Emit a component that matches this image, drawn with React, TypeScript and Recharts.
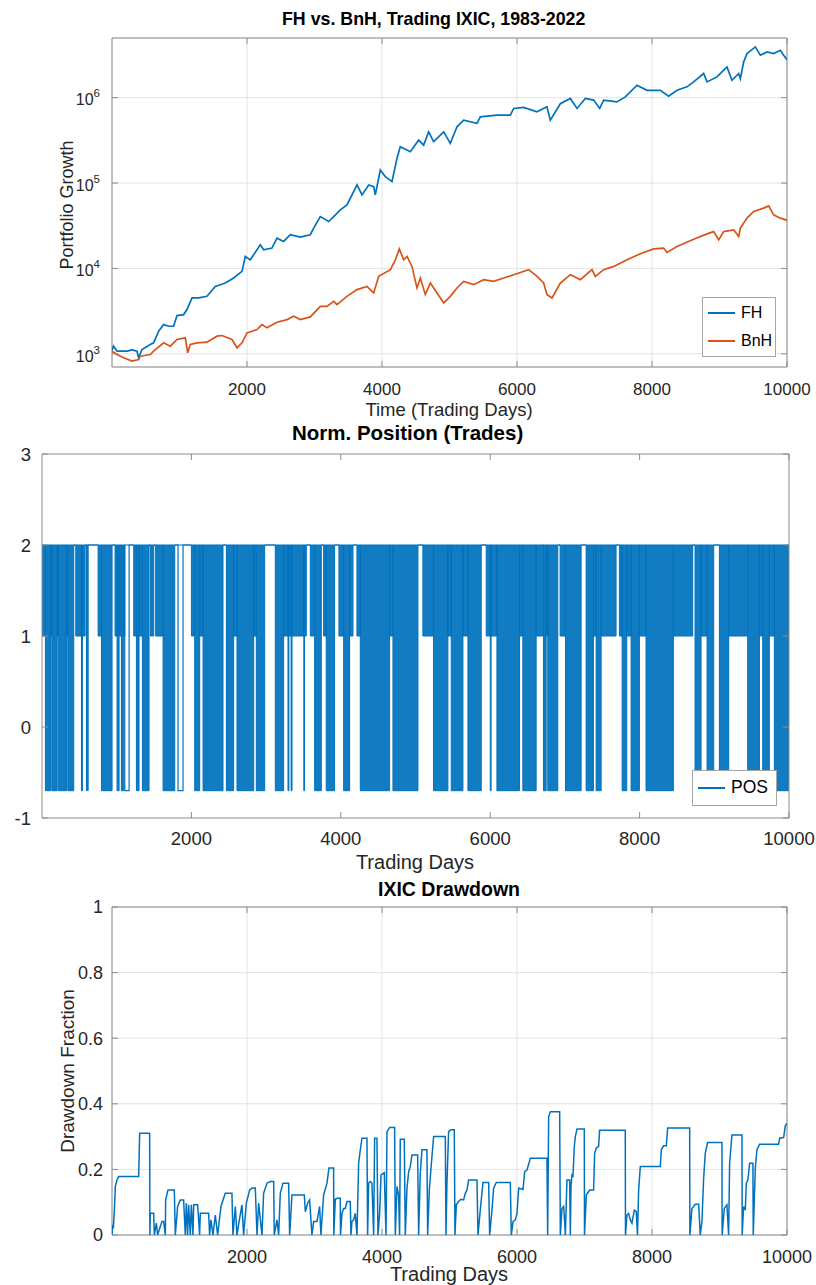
import React from "react";
import {
  LineChart,
  ComposedChart,
  Line,
  Area,
  XAxis,
  YAxis,
  CartesianGrid,
  ReferenceArea,
  Legend,
} from "recharts";

const BLUE = "#0072BD";
const ORANGE = "#D95319";
const AXIS = "#8c8c8c";
const GRID = "#e3e3e3";
const INK = "#262626";
const FONT = "'Liberation Sans', Arial, Helvetica, sans-serif";

// shared trading-day axis
const DAY_TICKS = [2000, 4000, 6000, 8000, 10000];

// panel 1: portfolio growth (log scale)
const GROWTH_TICKS = [1e3, 1e4, 1e5, 1e6];
const GROWTH_MINOR = [
  800, 900, 2e3, 3e3, 4e3, 5e3, 6e3, 7e3, 8e3, 9e3, 2e4, 3e4, 4e4, 5e4, 6e4, 7e4, 8e4, 9e4,
  2e5, 3e5, 4e5, 5e5, 6e5, 7e5, 8e5, 9e5, 2e6, 3e6, 4e6,
];

// [day, value]
const FH_GROWTH: [number, number][] = [
  [0, 1100], [24, 1230], [74, 1072], [222, 1072], [300, 1110], [370, 1072], [395, 898], [444, 1122],
  [567, 1284], [617, 1344], [691, 1837], [765, 2198], [840, 2100], [913, 2100], [963, 2800],
  [1061, 2877], [1111, 3294], [1185, 4510], [1284, 4510], [1407, 4710], [1530, 6160], [1679, 6750],
  [1802, 7720], [1926, 9230], [1975, 13800], [2049, 12600], [2197, 18900], [2247, 16500],
  [2370, 17300], [2444, 22600], [2543, 20700], [2641, 24800], [2790, 23300], [2938, 24800],
  [2988, 29600], [3086, 40500], [3210, 35400], [3284, 40500], [3383, 48500], [3481, 55400],
  [3630, 95000], [3704, 72600], [3803, 95000], [3877, 90800], [3901, 72600], [3975, 142000],
  [4049, 119000], [4148, 104000], [4222, 195000], [4271, 266000], [4420, 233000], [4543, 318000],
  [4617, 278000], [4691, 398000], [4765, 305000], [4914, 398000], [5012, 292000], [5111, 456000],
  [5210, 546000], [5407, 500000], [5457, 597000], [5704, 625000], [5901, 625000], [5951, 748000],
  [6099, 768000], [6296, 682000], [6444, 782000], [6494, 546000], [6642, 850000], [6790, 979000],
  [6889, 748000], [7012, 979000], [7136, 936000], [7225, 748000], [7284, 936000], [7481, 893000],
  [7605, 1020000], [7778, 1400000], [7926, 1220000], [8123, 1220000], [8247, 1040000],
  [8370, 1220000], [8518, 1340000], [8617, 1530000], [8765, 1920000], [8815, 1530000],
  [8963, 1750000], [9062, 2100000], [9111, 2290000], [9185, 1600000], [9284, 1920000],
  [9309, 1670000], [9358, 2620000], [9407, 3280000], [9531, 3930000], [9605, 3140000],
  [9704, 3430000], [9802, 3280000], [9901, 3590000], [9951, 3140000], [10000, 2790000],
];

const BNH_GROWTH: [number, number][] = [
  [0, 1072], [74, 981], [173, 898], [296, 820], [395, 857], [420, 938], [567, 981], [617, 1072],
  [765, 1344], [864, 1227], [963, 1469], [1086, 1538], [1121, 1027], [1160, 1284], [1259, 1344],
  [1407, 1367], [1556, 1607], [1630, 1637], [1778, 1469], [1852, 1175], [1926, 1344], [2000, 1758],
  [2148, 1923], [2222, 2198], [2296, 2013], [2444, 2340], [2593, 2515], [2691, 2750], [2790, 2515],
  [2938, 2703], [3086, 3597], [3185, 3597], [3284, 4115], [3333, 3767], [3481, 4710], [3630, 5640],
  [3778, 6160], [3877, 5160], [3951, 8070], [4124, 9660], [4198, 12600], [4257, 16900],
  [4321, 12600], [4370, 13800], [4444, 10550], [4518, 5900], [4568, 7720], [4642, 4930],
  [4716, 6750], [4815, 5160], [4914, 3940], [5012, 4710], [5111, 5900], [5210, 7050], [5358, 6450],
  [5506, 7380], [5654, 7050], [5802, 7720], [5951, 8440], [6173, 9660], [6296, 8070], [6395, 6750],
  [6444, 4930], [6519, 4510], [6642, 6750], [6790, 8440], [6839, 8070], [6938, 7380], [7111, 9660],
  [7160, 8070], [7284, 9660], [7432, 10550], [7630, 12600], [7827, 14860], [8025, 16900],
  [8173, 17300], [8222, 15400], [8370, 18100], [8617, 22000], [8815, 25400], [8914, 27000],
  [8988, 21600], [9062, 27000], [9210, 28300], [9284, 23700], [9309, 29600], [9407, 38800],
  [9506, 46400], [9654, 50800], [9728, 54000], [9802, 42400], [9901, 38800], [9951, 37800],
  [10000, 36400],
];

// panel 2: normalised position. Stretches of rapid trading away from the
// full (2) position: [firstDay, lastDay, lowest level reached]
const POS_TICKS = [-1, 0, 1, 2, 3];
const POSITION_BANDS: [number, number, number][] = [
  [2, 46, 1], [46, 113, -0.7], [113, 131, 1], [131, 202, -0.7], [202, 216, 1], [216, 327, -0.7],
  [327, 345, 1], [345, 425, -0.7], [452, 528, 1], [528, 541, -0.7], [541, 577, 1], [595, 600, -0.7],
  [612, 617, -0.7], [751, 796, 1], [796, 938, -0.7], [978, 1005, 1], [1005, 1032, -0.7],
  [1032, 1063, 1], [1063, 1094, -0.7], [1094, 1108, 1], [1228, 1264, 1], [1264, 1299, -0.7],
  [1299, 1344, 1], [1344, 1433, -0.7], [1451, 1496, 1], [1522, 1621, 1], [1621, 1777, -0.7],
  [2000, 2044, 1], [2044, 2111, -0.7], [2111, 2156, 1], [2156, 2423, -0.7], [2468, 2566, -0.7],
  [2566, 2610, 1], [2610, 2834, -0.7], [2834, 2869, 1], [2869, 2981, -0.7], [3123, 3235, -0.7],
  [3235, 3293, 1], [3293, 3305, -0.7], [3305, 3335, 1], [3335, 3347, -0.7], [3347, 3505, 1],
  [3505, 3515, -0.7], [3515, 3538, 1], [3592, 3650, 1], [3650, 3739, -0.7], [3770, 3805, 1],
  [3805, 3917, -0.7], [3975, 4038, 1], [4038, 4118, -0.7], [4118, 4163, 1], [4216, 4261, 1],
  [4261, 4653, -0.7], [4653, 4698, 1], [4698, 5033, -0.7], [5099, 5242, 1], [5242, 5434, -0.7],
  [5434, 5478, 1], [5478, 5635, -0.7], [5635, 5702, 1], [5702, 5880, -0.7], [5947, 6001, 1],
  [6001, 6012, -0.7], [6012, 6090, 1], [6090, 6393, -0.7], [6393, 6437, 1], [6437, 6615, -0.7],
  [6615, 6704, 1], [6713, 6749, -0.7], [6749, 6771, 1], [6771, 6905, -0.7], [6936, 7008, 1],
  [7008, 7217, -0.7], [7284, 7382, -0.7], [7382, 7418, 1], [7418, 7485, -0.7], [7485, 7685, 1],
  [7730, 7766, 1], [7766, 7828, -0.7], [7828, 7886, 1], [7886, 7997, -0.7], [7997, 8086, 1],
  [8086, 8452, -0.7], [8452, 8711, 1], [8742, 8823, -0.7], [8823, 8903, 1], [8903, 8992, -0.7],
  [9068, 9193, -0.7], [9193, 9447, 1], [9447, 9604, -0.7], [9604, 9648, 1], [9648, 9737, -0.7],
  [9737, 9804, 1], [9804, 10000, -0.7],
];
// longer short holds: [from, to, level]
const POSITION_HOLDS: [number, number, number][] = [
  [1108, 1166, -0.7],
  [1821, 1888, -0.7],
];

// panel 3: drawdown fraction, [day, drawdown]
const DD_TICKS = [0, 0.2, 0.4, 0.6, 0.8, 1];
const DRAWDOWN: [number, number][] = [
  [0, 0], [10, 0.031], [20, 0.02], [34, 0.071], [49, 0.148], [74, 0.168], [98, 0.178], [395, 0.178],
  [410, 0.31], [558, 0.31], [561, 0], [567, 0.066], [617, 0.066], [627, 0], [657, 0.036], [676, 0],
  [706, 0.02], [740, 0.041], [765, 0.041], [790, 0], [795, 0.107], [829, 0.137], [923, 0.137],
  [938, 0], [972, 0.087], [1012, 0.107], [1061, 0.107], [1086, 0], [1101, 0.097], [1120, 0],
  [1135, 0.092], [1160, 0], [1175, 0.092], [1200, 0], [1210, 0.092], [1269, 0.092], [1298, 0],
  [1308, 0.066], [1432, 0.066], [1446, 0], [1466, 0.046], [1496, 0], [1530, 0.061], [1565, 0],
  [1614, 0.087], [1678, 0.127], [1777, 0.127], [1792, 0], [1827, 0.087], [1851, 0], [1891, 0.051],
  [1925, 0.092], [1950, 0], [1990, 0.097], [2039, 0.137], [2073, 0.143], [2123, 0.143], [2148, 0],
  [2172, 0.097], [2222, 0], [2246, 0.127], [2296, 0.158], [2345, 0.163], [2395, 0.163], [2404, 0],
  [2444, 0.046], [2469, 0], [2493, 0.127], [2533, 0.158], [2617, 0.158], [2632, 0], [2666, 0.122],
  [2849, 0.122], [2864, 0.071], [2898, 0.097], [2928, 0.107], [2962, 0], [2987, 0.041],
  [3036, 0.041], [3076, 0.087], [3095, 0], [3135, 0.122], [3185, 0.158], [3214, 0.204],
  [3283, 0.204], [3286, 0], [3308, 0.109], [3333, 0.112], [3382, 0.112], [3385, 0], [3407, 0.066],
  [3432, 0.081], [3456, 0.081], [3481, 0.102], [3530, 0.102], [3540, 0], [3555, 0.041],
  [3580, 0.046], [3604, 0.066], [3629, 0], [3654, 0.219], [3679, 0.26], [3703, 0.295],
  [3777, 0.295], [3787, 0], [3802, 0.158], [3827, 0.163], [3851, 0.158], [3876, 0], [3891, 0.295],
  [3925, 0.295], [3940, 0], [3965, 0.066], [3985, 0.183], [4034, 0.19], [4059, 0], [4074, 0.315],
  [4113, 0.328], [4187, 0.328], [4197, 0], [4222, 0.148], [4246, 0.122], [4261, 0], [4271, 0.292],
  [4330, 0.292], [4345, 0], [4370, 0.143], [4395, 0.193], [4419, 0.209], [4444, 0.244],
  [4528, 0.244], [4543, 0], [4567, 0.188], [4592, 0.26], [4666, 0.26], [4676, 0], [4701, 0.137],
  [4730, 0.214], [4765, 0.3], [4938, 0.3], [4948, 0], [4962, 0.158], [4987, 0.315], [5022, 0.321],
  [5071, 0.321], [5081, 0], [5101, 0.092], [5135, 0.102], [5170, 0.109], [5209, 0.107],
  [5234, 0.127], [5259, 0.137], [5283, 0.168], [5407, 0.168], [5422, 0], [5456, 0.076],
  [5496, 0.16], [5580, 0.16], [5595, 0], [5629, 0.076], [5654, 0.143], [5693, 0.16], [5901, 0.16],
  [5916, 0], [5941, 0.041], [5975, 0.046], [6000, 0.066], [6025, 0.143], [6089, 0.139],
  [6114, 0.193], [6148, 0.198], [6198, 0.234], [6444, 0.234], [6454, 0], [6469, 0.361],
  [6494, 0.376], [6632, 0.376], [6642, 0], [6666, 0.081], [6691, 0.087], [6700, 0.06], [6716, 0],
  [6740, 0.168], [6780, 0.168], [6790, 0], [6800, 0.148], [6814, 0.183], [6829, 0.18], [6849, 0.27],
  [6864, 0.3], [6889, 0.323], [6997, 0.323], [7000, 0], [7027, 0.122], [7076, 0.137], [7135, 0.137],
  [7150, 0.249], [7175, 0.265], [7209, 0.27], [7224, 0.319], [7604, 0.319], [7607, 0],
  [7629, 0.061], [7654, 0.066], [7678, 0.046], [7703, 0.036], [7738, 0.076], [7767, 0.071],
  [7785, 0], [7802, 0.137], [7827, 0.209], [8123, 0.209], [8138, 0.26], [8172, 0.272],
  [8212, 0.272], [8232, 0.326], [8558, 0.326], [8561, 0], [8592, 0.081], [8617, 0.087],
  [8641, 0.094], [8691, 0.094], [8715, 0], [8740, 0.041], [8765, 0.173], [8789, 0.249],
  [8824, 0.282], [9036, 0.282], [9039, 0], [9071, 0.081], [9110, 0.092], [9135, 0], [9150, 0.219],
  [9184, 0.305], [9333, 0.305], [9336, 0], [9357, 0.087], [9382, 0.076], [9397, 0.158],
  [9421, 0.168], [9446, 0.219], [9495, 0.219], [9500, 0], [9530, 0.204], [9555, 0.26],
  [9594, 0.277], [9876, 0.277], [9891, 0.295], [9950, 0.297], [9975, 0.333], [10000, 0.341],
];

type Box = { left: number; right: number; top: number; bottom: number };

// plot rectangles, in each chart's own svg coordinates
const BOX1: Box = { left: 112, right: 787, top: 38, bottom: 367 };
const BOX2: Box = { left: 42, right: 789, top: 34, bottom: 398 };
const BOX3: Box = { left: 112, right: 787, top: 37, bottom: 365 };

const fhData = FH_GROWTH.map(([day, v]) => ({ day, v }));
const bnhData = BNH_GROWTH.map(([day, v]) => ({ day, v }));
const ddData = DRAWDOWN.map(([day, v]) => ({ day, v }));

const bandData = [{ day: 0, pos: 2 }];
POSITION_BANDS.forEach(([from, to, low]) => {
  bandData.push({ day: from, pos: low });
  bandData.push({ day: to, pos: 2 });
});
bandData.push({ day: 10000, pos: 2 });

const holdData = [{ day: 0, pos: 2 }];
POSITION_HOLDS.forEach(([from, to, level]) => {
  holdData.push({ day: from, pos: level });
  holdData.push({ day: to, pos: 2 });
});
holdData.push({ day: 10000, pos: 2 });

function xTick(box: Box, fontSize: number, drop: number) {
  return (p: any) => (
    <g>
      <line x1={p.x} x2={p.x} y1={box.bottom} y2={box.bottom - 6} stroke={AXIS} />
      <line x1={p.x} x2={p.x} y1={box.top} y2={box.top + 6} stroke={AXIS} />
      <text x={p.x} y={box.bottom + drop} textAnchor="middle" fontSize={fontSize} fontFamily={FONT} fill={INK}>
        {p.payload.value}
      </text>
    </g>
  );
}

function yTick(box: Box, fontSize: number, gap: number, label?: (v: number) => React.ReactNode) {
  return (p: any) => (
    <g>
      <line x1={box.left} x2={box.left + 6} y1={p.y} y2={p.y} stroke={AXIS} />
      <line x1={box.right - 6} x2={box.right} y1={p.y} y2={p.y} stroke={AXIS} />
      <text x={box.left - gap} y={p.y + fontSize * 0.36} textAnchor="end" fontSize={fontSize} fontFamily={FONT} fill={INK}>
        {label ? label(p.payload.value) : String(p.payload.value)}
      </text>
    </g>
  );
}

function powerLabel(v: number) {
  const e = Math.round(Math.log10(v));
  return (
    <>
      <tspan dy={2}>10</tspan>
      <tspan dy={-8} fontSize={11.5}>
        {e}
      </tspan>
    </>
  );
}

const minorTick = (p: any) => (
  <g>
    <line x1={BOX1.left} x2={BOX1.right} y1={p.y} y2={p.y} stroke="#e6e6e6" strokeDasharray="1 2" />
    <line x1={BOX1.left} x2={BOX1.left + 3} y1={p.y} y2={p.y} stroke={AXIS} />
    <line x1={BOX1.right - 3} x2={BOX1.right} y1={p.y} y2={p.y} stroke={AXIS} />
  </g>
);

function LegendBox({
  payload,
  names,
  width,
  height,
  row,
  fontSize,
}: {
  payload?: any[];
  names: string[];
  width: number;
  height: number;
  row: number;
  fontSize: number;
}) {
  const items = names
    .map((n) => (payload ?? []).find((p) => p.value === n))
    .filter(Boolean) as any[];
  return (
    <div
      style={{
        width,
        height,
        boxSizing: "border-box",
        border: "1px solid #a6a6a6",
        background: "#fff",
        paddingLeft: 5,
        paddingTop: (height - 2 - row * items.length) / 2,
        fontFamily: FONT,
        fontSize,
        color: "#000",
        lineHeight: 1,
      }}
    >
      {items.map((item) => (
        <div key={item.value} style={{ display: "flex", alignItems: "center", height: row }}>
          <svg width={28} height={4} style={{ marginRight: 5, flex: "none" }}>
            <line x1={0} x2={27} y1={2} y2={2} stroke={item.color} strokeWidth={2} />
          </svg>
          <span>{item.value}</span>
        </div>
      ))}
    </div>
  );
}

export default function App() {
  return (
    <div style={{ position: "absolute", left: 0, top: 0, width: 816, height: 1285, background: "#fff", overflow: "hidden" }}>
      {/* panel 1 */}
      <div style={{ position: "absolute", left: 0, top: 0 }}>
        <LineChart width={816} height={420} margin={{ top: 38, right: 29, bottom: 0, left: 0 }}>
          <CartesianGrid stroke={GRID} />
          <XAxis
            dataKey="day"
            type="number"
            domain={[0, 10000]}
            allowDataOverflow
            ticks={DAY_TICKS}
            interval={0}
            height={53}
            axisLine={false}
            tickLine={false}
            tickSize={0}
            tickMargin={0}
            tick={xTick(BOX1, 17, 28)}
          />
          <YAxis
            yAxisId="minor"
            scale="log"
            type="number"
            domain={[700, 5e6]}
            allowDataOverflow
            ticks={GROWTH_MINOR}
            interval={0}
            width={0}
            axisLine={false}
            tickLine={false}
            tickSize={0}
            tick={minorTick}
          />
          <YAxis
            scale="log"
            type="number"
            domain={[700, 5e6]}
            allowDataOverflow
            ticks={GROWTH_TICKS}
            interval={0}
            width={112}
            axisLine={false}
            tickLine={false}
            tickSize={0}
            tick={yTick(BOX1, 16, 12, powerLabel)}
          />
          <ReferenceArea x1={0} x2={10000} y1={700} y2={5e6} fill="none" stroke={AXIS} ifOverflow="visible" />
          <Line data={fhData} dataKey="v" name="FH" stroke={BLUE} strokeWidth={1.7} dot={false} activeDot={false} isAnimationActive={false} />
          <Line data={bnhData} dataKey="v" name="BnH" stroke={ORANGE} strokeWidth={1.7} dot={false} activeDot={false} isAnimationActive={false} />
          <Legend
            layout="horizontal"
            verticalAlign="middle"
            align="center"
            wrapperStyle={{ left: 702, top: 297, width: 74, height: 60 }}
            content={(props: any) => (
              <LegendBox payload={props.payload} names={["FH", "BnH"]} width={74} height={60} row={28} fontSize={16} />
            )}
          />
        </LineChart>
      </div>

      {/* panel 2 */}
      <div style={{ position: "absolute", left: 0, top: 420 }}>
        <ComposedChart width={816} height={450} margin={{ top: 34, right: 27, bottom: 0, left: 0 }}>
          <XAxis
            dataKey="day"
            type="number"
            domain={[0, 10000]}
            allowDataOverflow
            ticks={DAY_TICKS}
            interval={0}
            height={52}
            axisLine={false}
            tickLine={false}
            tickSize={0}
            tickMargin={0}
            tick={xTick(BOX2, 18.5, 27)}
          />
          <YAxis
            type="number"
            domain={[-1, 3]}
            allowDataOverflow
            ticks={POS_TICKS}
            interval={0}
            width={42}
            axisLine={false}
            tickLine={false}
            tickSize={0}
            tick={yTick(BOX2, 18.5, 11)}
          />
          <Area
            data={bandData}
            dataKey="pos"
            name="POS"
            type="stepAfter"
            baseValue={2}
            stroke={BLUE}
            strokeWidth={1}
            fill={BLUE}
            fillOpacity={0.93}
            dot={false}
            activeDot={false}
            legendType="line"
            isAnimationActive={false}
          />
          <Line
            data={holdData}
            dataKey="pos"
            name="hold"
            type="stepAfter"
            stroke={BLUE}
            strokeWidth={1.2}
            dot={false}
            activeDot={false}
            legendType="none"
            isAnimationActive={false}
          />
          <ReferenceArea x1={0} x2={10000} y1={-1} y2={3} fill="none" stroke={AXIS} ifOverflow="visible" />
          <Legend
            layout="horizontal"
            verticalAlign="middle"
            align="center"
            wrapperStyle={{ left: 692, top: 350, width: 85, height: 36 }}
            content={(props: any) => (
              <LegendBox payload={props.payload} names={["POS"]} width={85} height={36} row={30} fontSize={17.5} />
            )}
          />
        </ComposedChart>
      </div>

      {/* panel 3 */}
      <div style={{ position: "absolute", left: 0, top: 870 }}>
        <LineChart width={816} height={415} margin={{ top: 37, right: 29, bottom: 0, left: 0 }}>
          <CartesianGrid stroke={GRID} />
          <XAxis
            dataKey="day"
            type="number"
            domain={[0, 10000]}
            allowDataOverflow
            ticks={DAY_TICKS}
            interval={0}
            height={50}
            axisLine={false}
            tickLine={false}
            tickSize={0}
            tickMargin={0}
            tick={xTick(BOX3, 18, 28)}
          />
          <YAxis
            type="number"
            domain={[0, 1]}
            allowDataOverflow
            ticks={DD_TICKS}
            interval={0}
            width={112}
            axisLine={false}
            tickLine={false}
            tickSize={0}
            tick={yTick(BOX3, 18, 9)}
          />
          <ReferenceArea x1={0} x2={10000} y1={0} y2={1} fill="none" stroke={AXIS} ifOverflow="visible" />
          <Line data={ddData} dataKey="v" name="Drawdown" stroke={BLUE} strokeWidth={1.5} dot={false} activeDot={false} isAnimationActive={false} />
        </LineChart>
      </div>

      {/* titles and axis labels */}
      <svg width={816} height={1285} style={{ position: "absolute", left: 0, top: 0, pointerEvents: "none" }} fontFamily={FONT}>
        <text x={282} y={25} fontWeight="bold" fontSize={17.8} fill="#000">
          FH vs. BnH, Trading IXIC, 1983-2022
        </text>
        <text x={449} y={416} textAnchor="middle" fontSize={18.5} fill={INK}>
          Time (Trading Days)
        </text>
        <text transform="translate(73 205) rotate(-90)" textAnchor="middle" fontSize={18} fill={INK}>
          Portfolio Growth
        </text>
        <text x={292} y={440} fontWeight="bold" fontSize={20.5} fill="#000">
          Norm. Position (Trades)
        </text>
        <text x={415} y={869} textAnchor="middle" fontSize={20} fill={INK}>
          Trading Days
        </text>
        <text x={449} y={896} textAnchor="middle" fontWeight="bold" fontSize={19.5} fill="#000">
          IXIC Drawdown
        </text>
        <text transform="translate(74 1071) rotate(-90)" textAnchor="middle" fontSize={19} fill={INK}>
          Drawdown Fraction
        </text>
        <text x={449} y={1281} textAnchor="middle" fontSize={20} fill={INK}>
          Trading Days
        </text>
      </svg>
    </div>
  );
}
